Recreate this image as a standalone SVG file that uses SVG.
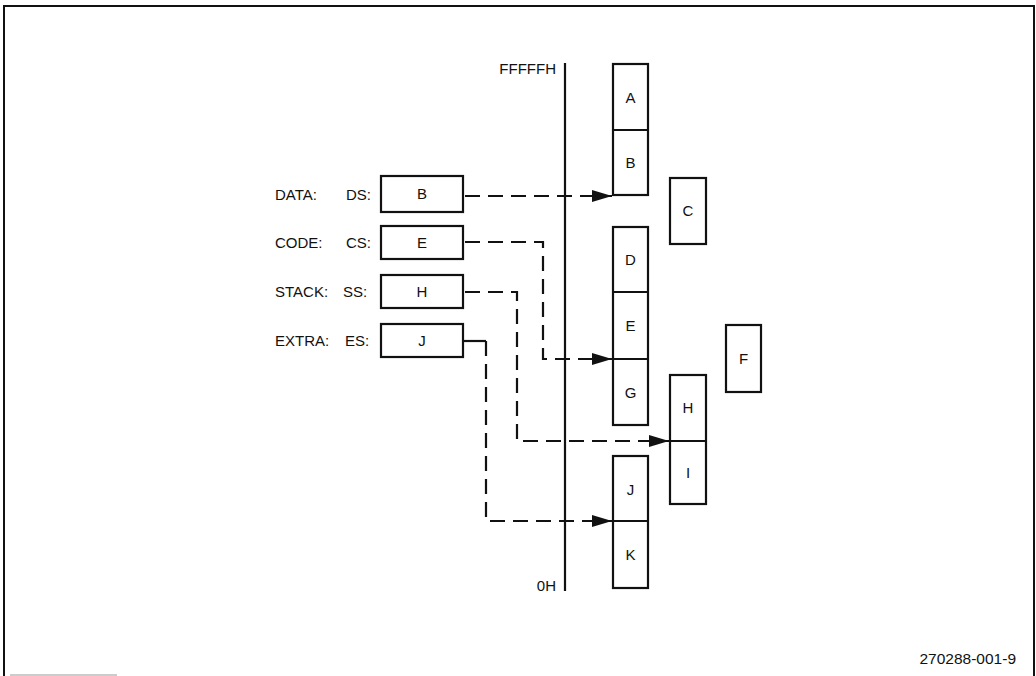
<svg xmlns="http://www.w3.org/2000/svg" width="1036" height="676" viewBox="0 0 1036 676">
<style>
  .t { font-family: "Liberation Sans", Arial, sans-serif; font-size: 15px; fill: #111; }
  .box { fill: #fff; stroke: #111; stroke-width: 2.2; }
  .div { stroke: #111; stroke-width: 2.2; fill: none; }
  .conn { fill: none; stroke: #111; stroke-width: 2.2; stroke-dasharray: 15 8; }
  .solid { fill: none; stroke: #111; stroke-width: 2.2; }
</style>
<defs>
  <marker id="arr" viewBox="0 0 20 12" refX="20" refY="6" markerWidth="20" markerHeight="12" markerUnits="userSpaceOnUse" orient="auto">
    <path d="M0,0 L20,6 L0,12 Z" fill="#111"/>
  </marker>
</defs>
<rect width="1036" height="676" fill="#fff"/>
<g id="frame">
  <path d="M4,676 V6 H1034 V676" fill="none" stroke="#111" stroke-width="2"/>
  <path d="M10,675 H117" fill="none" stroke="#bbb" stroke-width="1.5"/>
</g>
<g id="axis">
  <line x1="565" y1="63" x2="565" y2="591" class="solid"/>
  <text class="t" x="556" y="74" text-anchor="end">FFFFFH</text>
  <text class="t" x="556" y="591" text-anchor="end">0H</text>
</g>
<g id="labels">
  <text class="t" x="275" y="200">DATA:</text>
  <text class="t" x="346" y="200">DS:</text>
  <text class="t" x="275" y="248">CODE:</text>
  <text class="t" x="346" y="248">CS:</text>
  <text class="t" x="275" y="297">STACK:</text>
  <text class="t" x="343" y="297">SS:</text>
  <text class="t" x="275" y="346">EXTRA:</text>
  <text class="t" x="345" y="346">ES:</text>
</g>
<g id="reg-ds"><rect class="box" x="381" y="176" width="82" height="36"/><text class="t" x="422" y="199" text-anchor="middle">B</text></g>
<g id="reg-cs"><rect class="box" x="381" y="226" width="82" height="33"/><text class="t" x="422" y="248" text-anchor="middle">E</text></g>
<g id="reg-ss"><rect class="box" x="381" y="275" width="82" height="33"/><text class="t" x="422" y="297" text-anchor="middle">H</text></g>
<g id="reg-es"><rect class="box" x="381" y="324" width="82" height="33"/><text class="t" x="422" y="346" text-anchor="middle">J</text></g>
<g id="seg-AB">
  <rect class="box" x="613" y="64" width="35" height="131"/>
  <line class="div" x1="613" y1="130" x2="648" y2="130"/>
  <text class="t" x="630.5" y="103" text-anchor="middle">A</text>
  <text class="t" x="630.5" y="168" text-anchor="middle">B</text>
</g>
<g id="seg-C">
  <rect class="box" x="670" y="178" width="36" height="66"/>
  <text class="t" x="688" y="216" text-anchor="middle">C</text>
</g>
<g id="seg-DEG">
  <rect class="box" x="613" y="227" width="35" height="198"/>
  <line class="div" x1="613" y1="292" x2="648" y2="292"/>
  <line class="div" x1="613" y1="359" x2="648" y2="359"/>
  <text class="t" x="630.5" y="265" text-anchor="middle">D</text>
  <text class="t" x="630.5" y="331" text-anchor="middle">E</text>
  <text class="t" x="630.5" y="398" text-anchor="middle">G</text>
</g>
<g id="seg-F">
  <rect class="box" x="726" y="325" width="35" height="67"/>
  <text class="t" x="743.5" y="364" text-anchor="middle">F</text>
</g>
<g id="seg-HI">
  <rect class="box" x="670" y="375" width="36" height="129"/>
  <line class="div" x1="670" y1="441" x2="706" y2="441"/>
  <text class="t" x="688" y="413" text-anchor="middle">H</text>
  <text class="t" x="688" y="478" text-anchor="middle">I</text>
</g>
<g id="seg-JK">
  <rect class="box" x="613" y="456" width="35" height="132"/>
  <line class="div" x1="613" y1="521" x2="648" y2="521"/>
  <text class="t" x="630.5" y="495" text-anchor="middle">J</text>
  <text class="t" x="630.5" y="560" text-anchor="middle">K</text>
</g>
<g id="connectors">
  <path class="conn" d="M465,196 H612" marker-end="url(#arr)"/>
  <path class="conn" d="M465,242 H543 V359 H612" marker-end="url(#arr)"/>
  <path class="conn" d="M465,292 H517 V441 H669" marker-end="url(#arr)"/>
  <path class="solid" d="M463,341 H486"/>
  <path class="conn" d="M486,341 V521 H612" marker-end="url(#arr)"/>
</g>
<text class="t" x="1016" y="664" text-anchor="end" style="font-size:15.5px">270288-001-9</text>
</svg>
